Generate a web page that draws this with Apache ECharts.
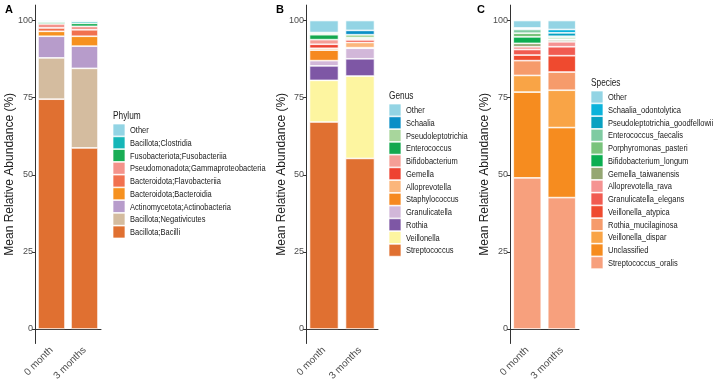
<!DOCTYPE html>
<html>
<head>
<meta charset="utf-8">
<script src="https://cdn.jsdelivr.net/npm/echarts@6/dist/echarts.min.js"></script>
<style>
  html, body { margin: 0; padding: 0; background: #fff; }
  #chart { width: 714px; height: 386px; }
</style>
</head>
<body>
<div id="chart"></div>
<script>
// time points
const months = ['0 month', '3 months'];
const yTicks = [0, 25, 50, 75, 100];

// panel A - phylum (bottom of stack first)
const phylumNames = ['Bacillota;Bacilli', 'Bacillota;Negativicutes', 'Actinomycetota;Actinobacteria',
  'Bacteroidota;Bacteroidia', 'Bacteroidota;Flavobacteriia', 'Pseudomonadota;Gammaproteobacteria',
  'Fusobacteriota;Fusobacteriia', 'Bacillota;Clostridia', 'Other'];
const phylumMonth0 = [74.5, 13.4, 7.0, 1.6, 1.1, 1.3, 0.6, 0.2, 0.3];
const phylumMonth3 = [58.7, 25.8, 7.2, 3.2, 2.1, 1.1, 1.0, 0.6, 0.3];

// panel B - genus
const genusNames = ['Streptococcus', 'Veillonella', 'Rothia', 'Granulicatella', 'Staphylococcus',
  'Alloprevotella', 'Gemella', 'Bifidobacterium', 'Enterococcus', 'Pseudoleptotrichia', 'Schaalia', 'Other'];
const genusMonth0 = [67.1, 13.5, 4.7, 1.7, 3.4, 0.6, 1.3, 1.5, 1.6, 0.5, 0.2, 3.9];
const genusMonth3 = [55.3, 26.7, 5.6, 3.4, 0.2, 1.7, 0.8, 0.4, 0.3, 1.0, 1.4, 3.2];

// panel C - species
const speciesNames = ['Streptococcus_oralis', 'Unclassified', 'Veillonella_dispar', 'Rothia_mucilaginosa',
  'Veillonella_atypica', 'Granulicatella_elegans', 'Alloprevotella_rava', 'Gemella_taiwanensis',
  'Bifidobacterium_longum', 'Porphyromonas_pasteri', 'Enterococcus_faecalis',
  'Pseudoleptotrichia_goodfellowii', 'Schaalia_odontolytica', 'Other'];
const speciesMonth0 = [49.0, 27.8, 5.4, 4.8, 1.8, 1.8, 0.9, 1.1, 2.1, 1.2, 1.2, 0.3, 0.2, 2.4];
const speciesMonth3 = [42.6, 22.7, 12.1, 5.9, 5.3, 2.9, 1.6, 0.6, 0.2, 0.5, 0.5, 1.1, 1.1, 2.9];

// colours
const phylumColors = ['#e07031', '#d4bc9f', '#b79ccb', '#f6911f', '#f1714f', '#f4938b', '#19ad55', '#15b6b7', '#92d4e4'];
const genusColors = ['#e07031', '#fdf5a0', '#7e57a5', '#d2b7d9', '#f6891f', '#fbb67b', '#ee4231', '#f59e96',
  '#14a84f', '#a8d69c', '#0b8fc7', '#93d4e4'];
const speciesColors = ['#f7a07d', '#f68c1f', '#f9a446', '#f69b6b', '#ef4a2f', '#f15b51', '#f59392', '#95a773',
  '#0bae51', '#79c37b', '#7fcba2', '#08a1c1', '#0bb3db', '#93d4e4'];

const panels = [
  { letter: 'A', title: 'Phylum', names: phylumNames, m0: phylumMonth0, m3: phylumMonth3, colors: phylumColors,
    left: 35, width: 66, barW: 27, nameGap: 19, letterX: 5, legendX: 113, legendTop: 124 },
  { letter: 'B', title: 'Genus', names: genusNames, m0: genusMonth0, m3: genusMonth3, colors: genusColors,
    left: 306, width: 72, barW: 29, nameGap: 18, letterX: 276, legendX: 389, legendTop: 104 },
  { letter: 'C', title: 'Species', names: speciesNames, m0: speciesMonth0, m3: speciesMonth3, colors: speciesColors,
    left: 510, width: 69, barW: 28, nameGap: 19, letterX: 477, legendX: 591, legendTop: 91 }
];

const gridTop = 5.1, gridBottomY = 343.5;
const font = 'Liberation Sans, Arial, sans-serif';
const grey = '#4d4d4d';
const squeeze = 0.79;   // the figure text is horizontally compressed
const keyPitch = 12.75;

const grids = [], xAxes = [], yAxes = [], series = [], titles = [], graphics = [];

panels.forEach(function (p, k) {
  grids.push({ left: p.left, top: gridTop, width: p.width, height: gridBottomY - gridTop });
  xAxes.push({
    type: 'category', gridIndex: k, data: months,
    axisLine: { lineStyle: { color: '#333', width: 1 } },
    axisTick: { alignWithLabel: true, length: 3, lineStyle: { color: '#333' } },
    axisLabel: { rotate: 45, margin: 5, fontSize: 10, color: grey, fontFamily: font }
  });
  yAxes.push({
    type: 'value', gridIndex: k, min: -4.7, max: 105,
    name: 'Mean Relative Abundance (%)', nameLocation: 'middle', nameRotate: 90,
    nameGap: p.nameGap, nameMoveOverlap: false,
    nameTextStyle: { fontSize: 12, color: '#1a1a1a', fontFamily: font },
    splitLine: { show: false },
    axisLine: { show: true, lineStyle: { color: '#333', width: 1 } },
    axisTick: { show: true, length: 3, customValues: yTicks, lineStyle: { color: '#333' } },
    axisLabel: { customValues: yTicks, fontSize: 9, color: grey, margin: 2, fontFamily: font }
  });
  p.names.forEach(function (name, i) {
    series.push({
      type: 'bar', name: name, xAxisIndex: k, yAxisIndex: k, stack: 'panel' + k,
      barWidth: p.barW,
      itemStyle: { color: p.colors[i], borderColor: '#fff', borderWidth: 0.7 },
      emphasis: { disabled: true },
      data: [p.m0[i], p.m3[i]]
    });
  });

  // legend, drawn by hand so the text can be squeezed like the original
  graphics.push({
    type: 'text', x: p.legendX, y: p.legendTop - 8, scaleX: squeeze,
    style: { text: p.title, font: '10.5px ' + font, fill: '#1a1a1a', verticalAlign: 'middle' }
  });
  const n = p.names.length;
  for (let j = 0; j < n; j++) {
    const i = n - 1 - j;
    const y = p.legendTop + j * keyPitch;
    graphics.push({
      type: 'rect', shape: { x: p.legendX, y: y, width: 12, height: 12 },
      style: { fill: p.colors[i], stroke: '#fff', lineWidth: 0.7 }
    });
    graphics.push({
      type: 'text', x: p.legendX + 17, y: y + 6.5, scaleX: squeeze,
      style: { text: p.names[i], font: '9.5px ' + font, fill: '#1a1a1a', verticalAlign: 'middle' }
    });
  }

  titles.push({ text: p.letter, left: p.letterX, top: 4, padding: 0,
    textStyle: { fontSize: 11, fontWeight: 'bold', color: '#000', fontFamily: font } });
});

const chart = echarts.init(document.getElementById('chart'), null, { renderer: 'canvas' });
chart.setOption({
  animation: false,
  backgroundColor: '#fff',
  title: titles,
  grid: grids,
  xAxis: xAxes,
  yAxis: yAxes,
  series: series,
  graphic: { elements: graphics }
});
</script>
</body>
</html>
